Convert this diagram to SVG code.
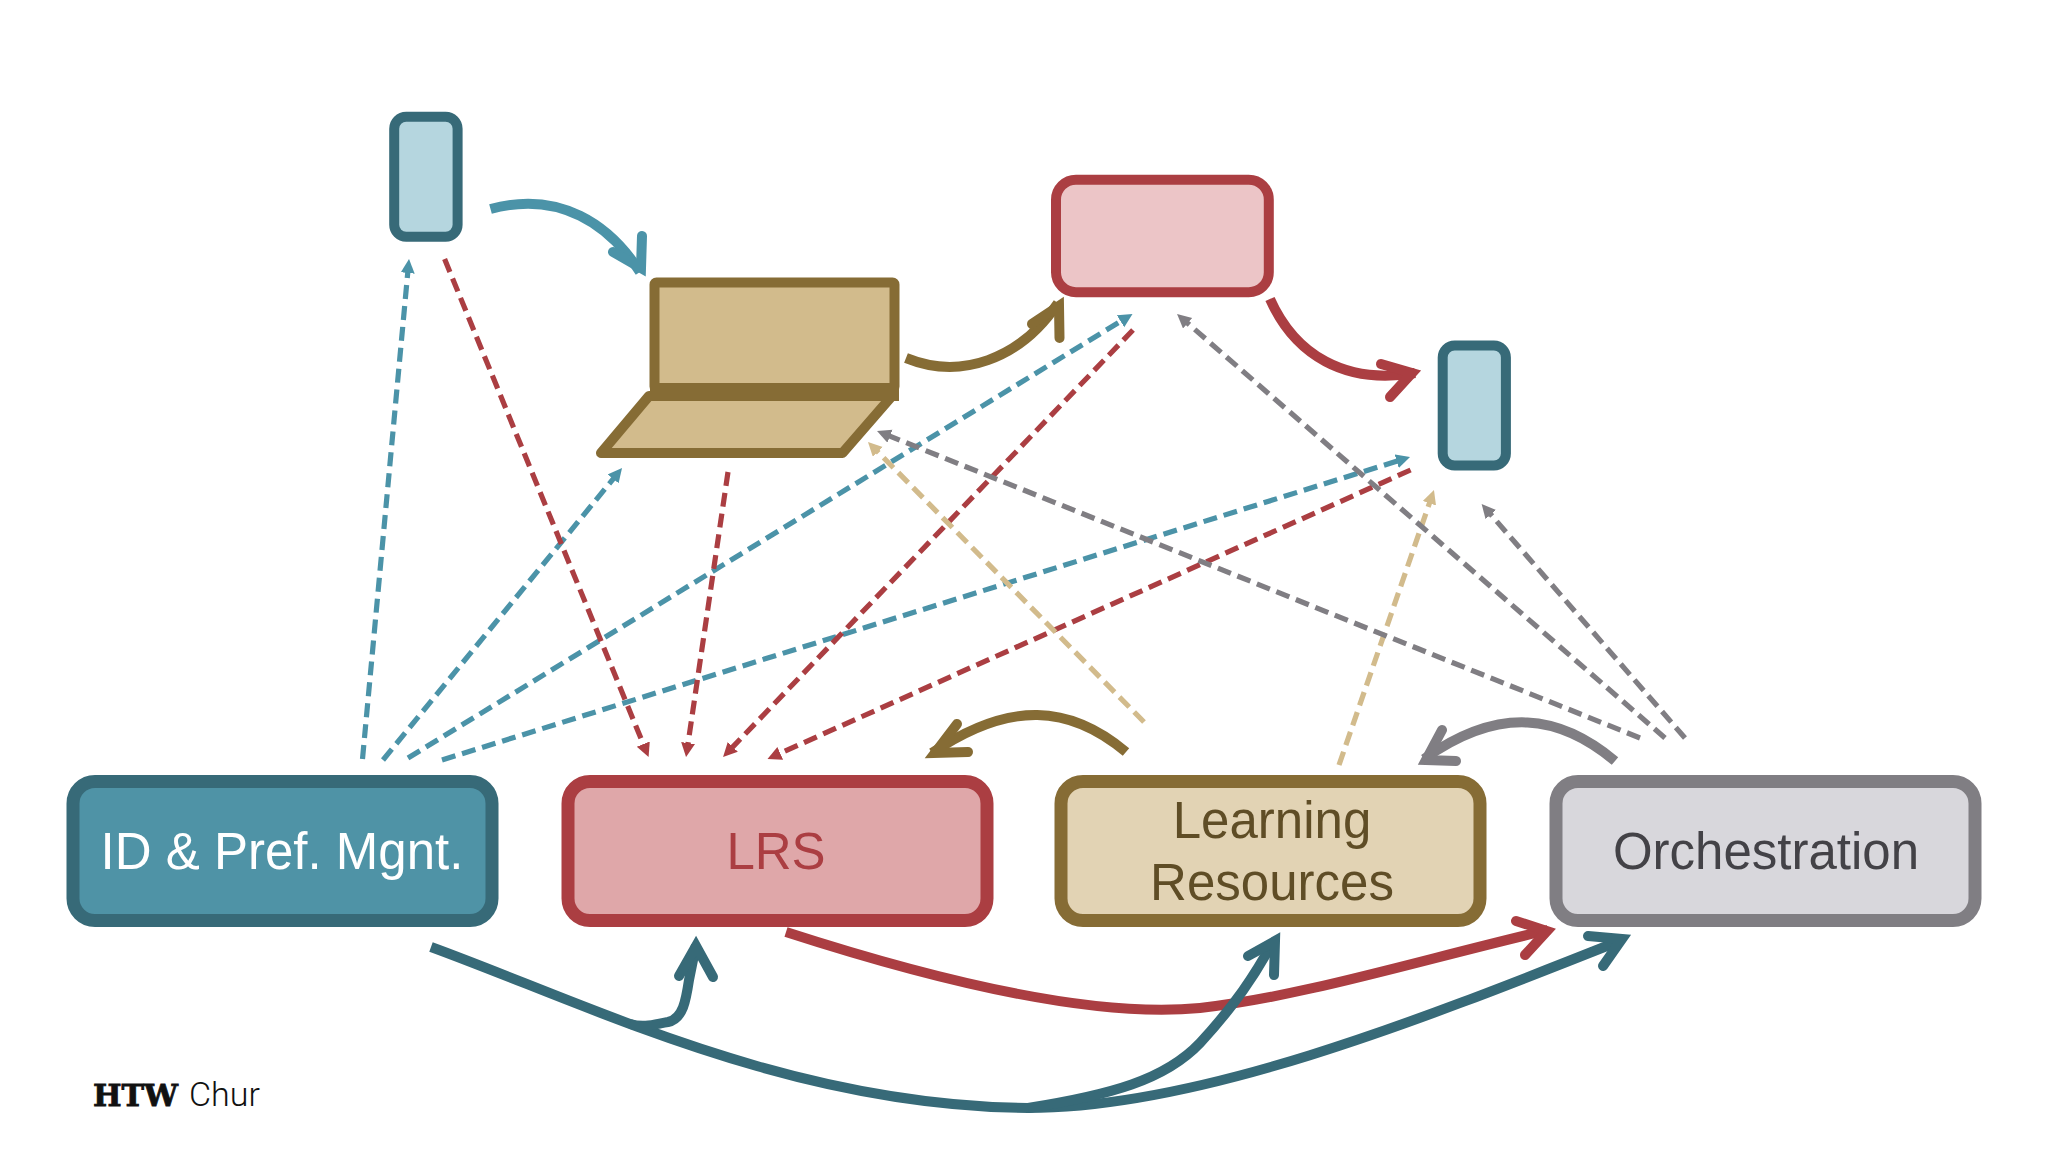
<svg xmlns="http://www.w3.org/2000/svg" width="2048" height="1152" viewBox="0 0 2048 1152">
<style>
text{font-family:"Liberation Sans",Arial,sans-serif;font-size:51px;text-anchor:middle}
.box{stroke-width:13}
.dev{stroke-width:10}
.teal{fill:#4f93a6;stroke:#376a78}
.red{fill:#dfa7a9;stroke:#ab3e42}
.tan{fill:#e2d3b4;stroke:#866c35}
.gray{fill:#d8d7dc;stroke:#807e83}
.pale-teal{fill:#b5d6df;stroke:#376a78}
.pale-red{fill:#ecc5c7;stroke:#ab3e42}
.pale-tan{fill:#d2bb8c;stroke:#866c35}
.d{fill:none;stroke-width:5.2;stroke-dasharray:14 7}
.c{fill:none;stroke-width:10}
.h{fill:none;stroke-width:10;stroke-linecap:round;stroke-linejoin:miter;stroke-miterlimit:8}
.k1{stroke:#4b93a8}.k2{stroke:#ab3e42}.k3{stroke:#d2bb8c}.k4{stroke:#807e83}.k5{stroke:#866c35}.k6{stroke:#376a78}
</style>
<defs>
<marker id="a1" markerUnits="userSpaceOnUse" markerWidth="16" markerHeight="16" refX="4" refY="7" orient="auto"><path d="M0,0L14,7L0,14Z" fill="#4b93a8"/></marker>
<marker id="a2" markerUnits="userSpaceOnUse" markerWidth="16" markerHeight="16" refX="4" refY="7" orient="auto"><path d="M0,0L14,7L0,14Z" fill="#ab3e42"/></marker>
<marker id="a3" markerUnits="userSpaceOnUse" markerWidth="16" markerHeight="16" refX="4" refY="7" orient="auto"><path d="M0,0L14,7L0,14Z" fill="#d2bb8c"/></marker>
<marker id="a4" markerUnits="userSpaceOnUse" markerWidth="16" markerHeight="16" refX="4" refY="7" orient="auto"><path d="M0,0L14,7L0,14Z" fill="#807e83"/></marker>
</defs>
<rect width="2048" height="1152" fill="#fff"/>
<g id="connectors">
<g class="k1">
<path class="d" marker-end="url(#a1)" d="M362.5,759L408.1,269"/>
<path class="d" marker-end="url(#a1)" d="M383,760L615.7,475.8"/>
<path class="d" marker-end="url(#a1)" d="M408,758L1124,319.2"/>
<path class="d" marker-end="url(#a1)" d="M442,760L1400.5,460"/>
</g>
<g class="k2">
<path class="d" marker-end="url(#a2)" d="M444.6,259L644.8,747.8"/>
<path class="d" marker-end="url(#a2)" d="M728,472L687.5,747"/>
<path class="d" marker-end="url(#a2)" d="M1133,330L730,749.8"/>
<path class="d" marker-end="url(#a2)" d="M1410.6,470L776.6,754.9"/>
</g>
<g class="k3">
<path class="d" marker-end="url(#a3)" d="M1144,722L875,449"/>
<path class="d" marker-end="url(#a3)" d="M1339,765L1430.7,499.5"/>
</g>
<g class="k4">
<path class="d" marker-end="url(#a4)" d="M1640,738L886.3,434.7"/>
<path class="d" marker-end="url(#a4)" d="M1665,738L1184.6,320.6"/>
<path class="d" marker-end="url(#a4)" d="M1685,738L1488.2,511.5"/>
</g>
<g class="k1"><path class="c" d="M490.5,209C560,190 610,225 640,272"/><path class="h" d="M642,236L641,268L613,252"/></g>
<g class="k5"><path class="c" d="M906,358C960,380 1020,360 1058,303"/><path class="h" d="M1059.5,338L1059,306L1032,324"/></g>
<g class="k2"><path class="c" d="M1270,299C1295,355 1345,385 1415,373"/><path class="h" d="M1381,364L1412,373L1390,397"/></g>
<g class="k5"><path class="c" d="M1126,752C1070,705 1010,700 932,753"/><path class="h" d="M957,724L935,753L968,752"/></g>
<g class="k4"><path class="c" d="M1615,761C1560,715 1500,705 1424,759"/><path class="h" d="M1442,730L1426,760L1456,761"/></g>
<g class="k2"><path class="c" d="M786,932C950,985 1100,1018 1200,1008C1305,996 1420,960 1548,930"/><path class="h" d="M1516,921L1547,931L1525,955"/></g>
<g class="k6">
<path class="c" d="M431,947C590,1005 790,1106 1028,1108C1200,1108 1420,1020 1622,940"/>
<path class="c" d="M630,1024C645,1028 655,1024 668,1022C683,1019 686,1000 689,980L696,945"/>
<path class="c" d="M1028,1108C1110,1095 1165,1080 1200,1043C1235,1005 1255,975 1273,942"/>
<path class="h" d="M679,976L696,946L713,977"/>
<path class="h" d="M1248,956L1275,941L1274,975"/>
<path class="h" d="M1588,936L1622,939L1603,966"/>
</g>
</g>
<g id="phone-left"><rect class="dev pale-teal" x="394.2" y="116.8" width="63.4" height="120" rx="12"/></g>
<g id="laptop">
<rect class="dev pale-tan" x="654.5" y="282.5" width="240" height="106" rx="2"/>
<path class="dev pale-tan" stroke-linejoin="round" d="M601,453L842.5,453L892,396L649,396Z"/>
<rect x="650" y="383" width="249" height="18" fill="#866c35"/>
</g>
<g id="whiteboard"><rect class="dev pale-red" x="1056" y="179.7" width="212.8" height="112.5" rx="20"/></g>
<g id="phone-right"><rect class="dev pale-teal" x="1442.7" y="345.5" width="63.2" height="120" rx="12"/></g>
<g id="id-pref"><rect class="box teal" x="73" y="781.5" width="419" height="139" rx="22"/><text x="282" y="869" fill="#fff">ID &amp; Pref. Mgnt.</text></g>
<g id="lrs"><rect class="box red" x="568" y="781.5" width="419" height="139" rx="22"/><text x="776" y="869" fill="#ab3e42">LRS</text></g>
<g id="learning-resources"><rect class="box tan" x="1061" y="781.5" width="419" height="139" rx="22"/><text x="1272" y="838" fill="#5f4d26">Learning</text><text x="1272" y="900" fill="#5f4d26">Resources</text></g>
<g id="orchestration"><rect class="box gray" x="1556" y="781.5" width="419" height="139" rx="22"/><text x="1766" y="869" fill="#434247">Orchestration</text></g>
<text x="93" y="1106" style="text-anchor:start;font-family:Roboto,'Liberation Sans',sans-serif;font-weight:300;font-size:34px" fill="#111"><tspan style="font-family:'DejaVu Serif',serif;font-weight:bold;font-size:30px;stroke:#111;stroke-width:.8" textLength="85" lengthAdjust="spacingAndGlyphs">HTW</tspan><tspan x="189">Chur</tspan></text>
</svg>
